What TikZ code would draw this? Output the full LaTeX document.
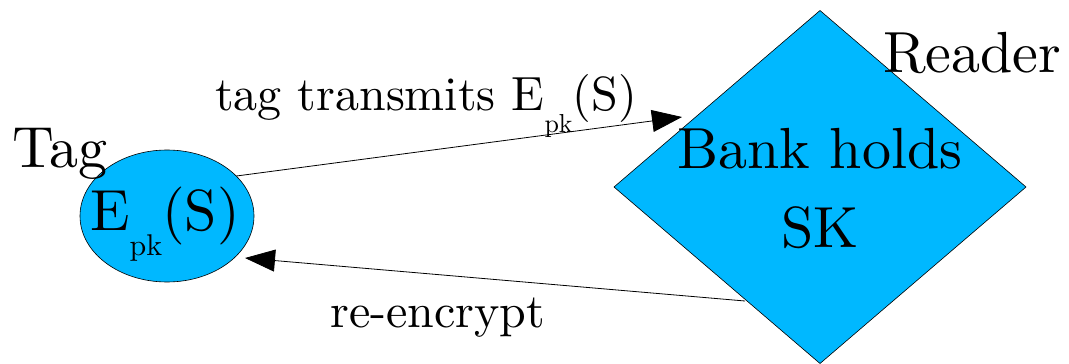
\documentclass[tikz,border=0pt]{standalone}
\usepackage{fontspec}
\setmainfont{lmroman10-regular.otf}
\usetikzlibrary{arrows.meta,shapes.geometric}
\definecolor{fillblue}{RGB}{0,184,255}
% E with a lowered "pk" subscript; #1 = subscript size, #2 = drop
\newcommand{\Epk}[2]{E\raisebox{-#2}{\fontsize{#1}{#1}\selectfont pk}(S)}
\begin{document}
\begin{tikzpicture}[x=1pt,y=-1pt,
  shapebox/.style={draw=black,line width=0.6pt,fill=fillblue,inner sep=0pt,outer sep=0pt},
  big/.style={font=\fontsize{58}{58}\selectfont,inner sep=0pt},
  mid/.style={font=\fontsize{48}{48}\selectfont,inner sep=0pt},
  link/.style={draw=black,line width=0.8pt,-{Triangle[length=30pt,width=22pt]}}]
\useasboundingbox (0,0) rectangle (1069,364);
% tag (ellipse) and reader (diamond)
\node[shapebox,ellipse,minimum width=174pt,minimum height=132pt] (tag) at (167,216) {};
\node[shapebox,diamond,minimum width=412pt,minimum height=353pt] (reader) at (820,187) {};
% texts inside the shapes
\node[big,anchor=base west] (tagtext) at (90,230) {\Epk{30pt}{25pt}};
\node[big,anchor=base] (bank1) at (820,168) {Bank holds};
\node[big,anchor=base] (bank2) at (820,247) {SK};
% shape captions
\node[big,anchor=base west] (taglabel) at (12,167) {Tag};
\node[big,anchor=base west] (readerlabel) at (883,72) {Reader};
% connectors
\coordinate (intip) at (682,117);
\coordinate (outstart) at (745,301);
\coordinate (backtip) at (245,258);
\draw[link] (tag.30) -- (intip);
\draw[link] (outstart) -- (backtip);
\node[mid,anchor=base west] (sendlabel) at (215,110) {tag transmits \Epk{26pt}{22pt}};
\node[mid,anchor=base west] (backlabel) at (330,327) {re-encrypt};
\end{tikzpicture}
\end{document}
